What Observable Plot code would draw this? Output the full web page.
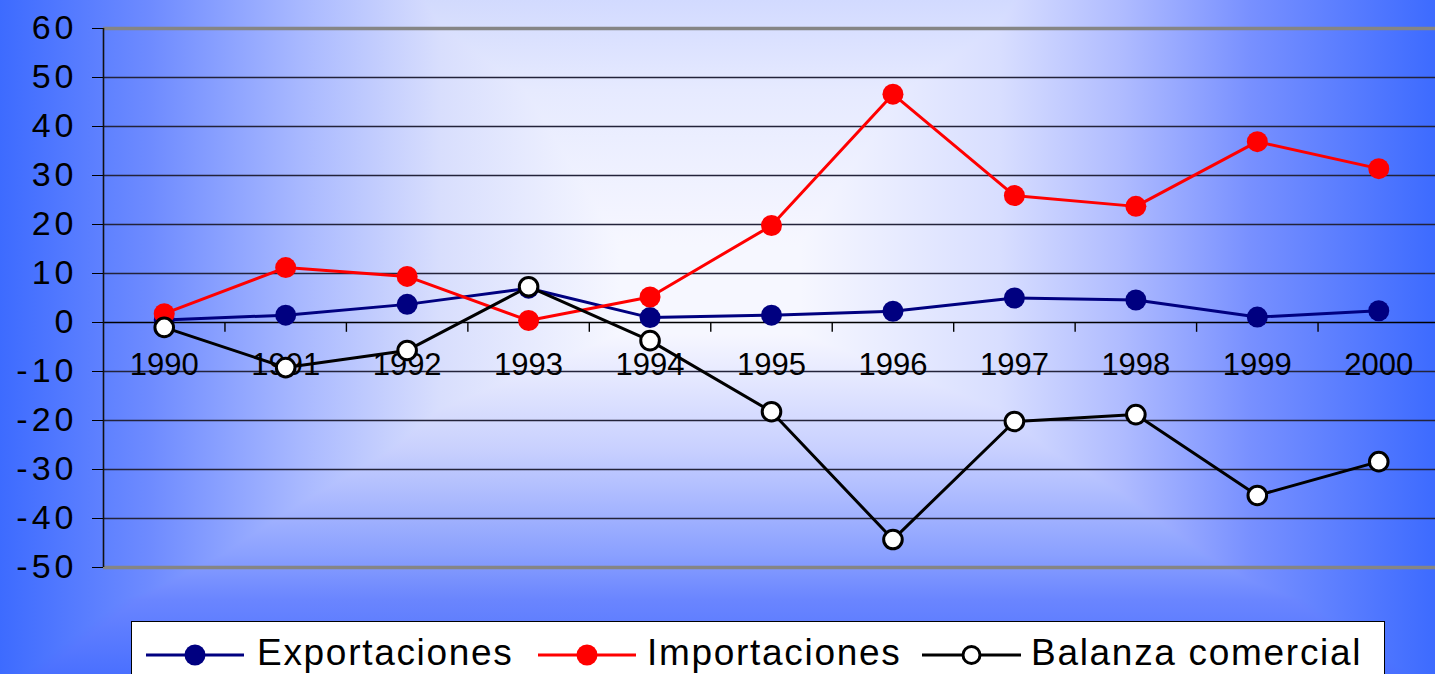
<!DOCTYPE html>
<html>
<head>
<meta charset="utf-8">
<script src="https://cdn.jsdelivr.net/npm/d3@7"></script>
<script src="https://cdn.jsdelivr.net/npm/@observablehq/plot@0.6"></script>
<style>
  html, body { margin: 0; padding: 0; }
  body { width: 1435px; height: 674px; overflow: hidden; color: #000;
         font-family: "Liberation Sans", Arial, sans-serif; }
  #stage {
    position: relative; width: 1435px; height: 674px; overflow: hidden;
    background-image:
      linear-gradient(to right, #3d6bff 0px, #6e8bff 150px, #a8b8ff 300px, #d8defd 440px, #f6f7ff 620px, #f6f7ff 800px, #d8deff 1000px, #b0bcff 1120px, #7890ff 1250px, #3d6bff 1435px),
      linear-gradient(to bottom, #d2daff 0px, #e6eaff 90px, #f8f8ff 260px, #f8f8ff 330px, #c8d0ff 450px, #8aa0ff 555px, #6a85ff 600px, #4a70ff 674px);
    background-blend-mode: darken;
  }
  #chart { position: absolute; left: 0; top: 0; }
  #chart svg { background: transparent; }
  g[aria-label="y-axis tick label"] text { letter-spacing: 4px; }
  g[aria-label="x-label"] text { letter-spacing: 1px; }
  #legend { position: absolute; left: 131px; top: 621px; width: 1254px; height: 62px;
            box-sizing: border-box; background: #fff; border: 1px solid #000; }
  #legend text { letter-spacing: 1.7px; }
</style>
</head>
<body>
<div id="stage">
  <div id="chart"></div>
  <div id="legend"></div>
</div>
<script>
const years = [1990, 1991, 1992, 1993, 1994, 1995, 1996, 1997, 1998, 1999, 2000];
const exportaciones = [0.5, 1.5, 3.7, 7.0, 1.0, 1.5, 2.3, 5.0, 4.6, 1.1, 2.4];
const importaciones = [1.8, 11.2, 9.4, 0.4, 5.2, 19.8, 46.6, 25.9, 23.7, 36.9, 31.4];
const balanza = [-1.0, -9.2, -5.7, 7.3, -3.7, -18.2, -44.3, -20.2, -18.8, -35.3, -28.4];
const yTicks = [-50, -40, -30, -20, -10, 0, 10, 20, 30, 40, 50, 60];
const seriesNames = ["Exportaciones", "Importaciones", "Balanza comercial"];
const seriesColors = ["#000080", "#ff0000", "#000000"];

const rows = years.map((year, i) => ({year, exp: exportaciones[i], imp: importaciones[i], bal: balanza[i]}));
const bounds = years.slice(0, -1).map(y => y + 0.5);
const innerGrid = yTicks.filter(t => t !== -50 && t !== 60 && t !== 0);

const chart = Plot.plot({
  width: 1435,
  height: 600,
  marginLeft: 103,
  marginRight: -4,
  marginTop: 28,
  marginBottom: 33,
  style: {background: "transparent", fontFamily: "'Liberation Sans', Arial, sans-serif", overflow: "hidden"},
  x: {domain: [1989.5, 2000.5], axis: null},
  y: {domain: [-50, 60]},
  marks: [
    Plot.ruleY(innerGrid, {stroke: "#23233a", strokeWidth: 1.4}),
    Plot.ruleY([60, -50], {stroke: "#858585", strokeWidth: 3.5}),
    Plot.ruleY([0], {stroke: "#000", strokeWidth: 1.4}),
    Plot.ruleX(bounds, {y1: 0, y2: -2, stroke: "#000", strokeWidth: 1.4}),
    Plot.ruleX([1989.5], {y1: -50, y2: 60, stroke: "#111", strokeWidth: 1.6}),
    Plot.axisY({ticks: yTicks, tickSize: 11, tickPadding: 15, fontSize: 34, tickFormat: d => String(d), stroke: "#000"}),
    Plot.text(rows, {x: "year", y: () => 0, text: d => String(d.year), dy: 43, fontSize: 31, fill: "#000", ariaLabel: "x-label"}),
    Plot.line(rows, {x: "year", y: "exp", stroke: seriesColors[0], strokeWidth: 3}),
    Plot.dot(rows, {x: "year", y: "exp", r: 10.5, fill: seriesColors[0], stroke: "none"}),
    Plot.line(rows, {x: "year", y: "imp", stroke: seriesColors[1], strokeWidth: 3}),
    Plot.dot(rows, {x: "year", y: "imp", r: 10.5, fill: seriesColors[1], stroke: "none"}),
    Plot.line(rows, {x: "year", y: "bal", stroke: seriesColors[2], strokeWidth: 3}),
    Plot.dot(rows, {x: "year", y: "bal", r: 9.3, fill: "#fff", stroke: "#000", strokeWidth: 3})
  ]
});
document.getElementById("chart").appendChild(chart);

// Legend
const legendItems = [
  {name: seriesNames[0], color: seriesColors[0], x0: 14, x1: 112, textX: 125, open: false},
  {name: seriesNames[1], color: seriesColors[1], x0: 406, x1: 504, textX: 515, open: false},
  {name: seriesNames[2], color: seriesColors[2], x0: 790, x1: 889, textX: 899, open: true}
];
const lsvg = d3.select("#legend").append("svg")
  .attr("width", 1252).attr("height", 60)
  .style("position", "absolute").style("left", "0px").style("top", "-1px");
const g = lsvg.selectAll("g").data(legendItems).join("g");
g.append("line")
  .attr("x1", d => d.x0).attr("x2", d => d.x1)
  .attr("y1", 34).attr("y2", 34)
  .attr("stroke", d => d.color).attr("stroke-width", 3);
g.append("circle")
  .attr("cx", d => (d.x0 + d.x1) / 2).attr("cy", 34)
  .attr("r", d => d.open ? 8.5 : 10.5)
  .attr("fill", d => d.open ? "#fff" : d.color)
  .attr("stroke", d => d.open ? "#000" : "none")
  .attr("stroke-width", 3);
g.append("text")
  .attr("x", d => d.textX).attr("y", 44)
  .attr("font-size", 37)
  .attr("font-family", "'Liberation Sans', Arial, sans-serif")
  .attr("fill", "#000")
  .text(d => d.name);
</script>
</body>
</html>
